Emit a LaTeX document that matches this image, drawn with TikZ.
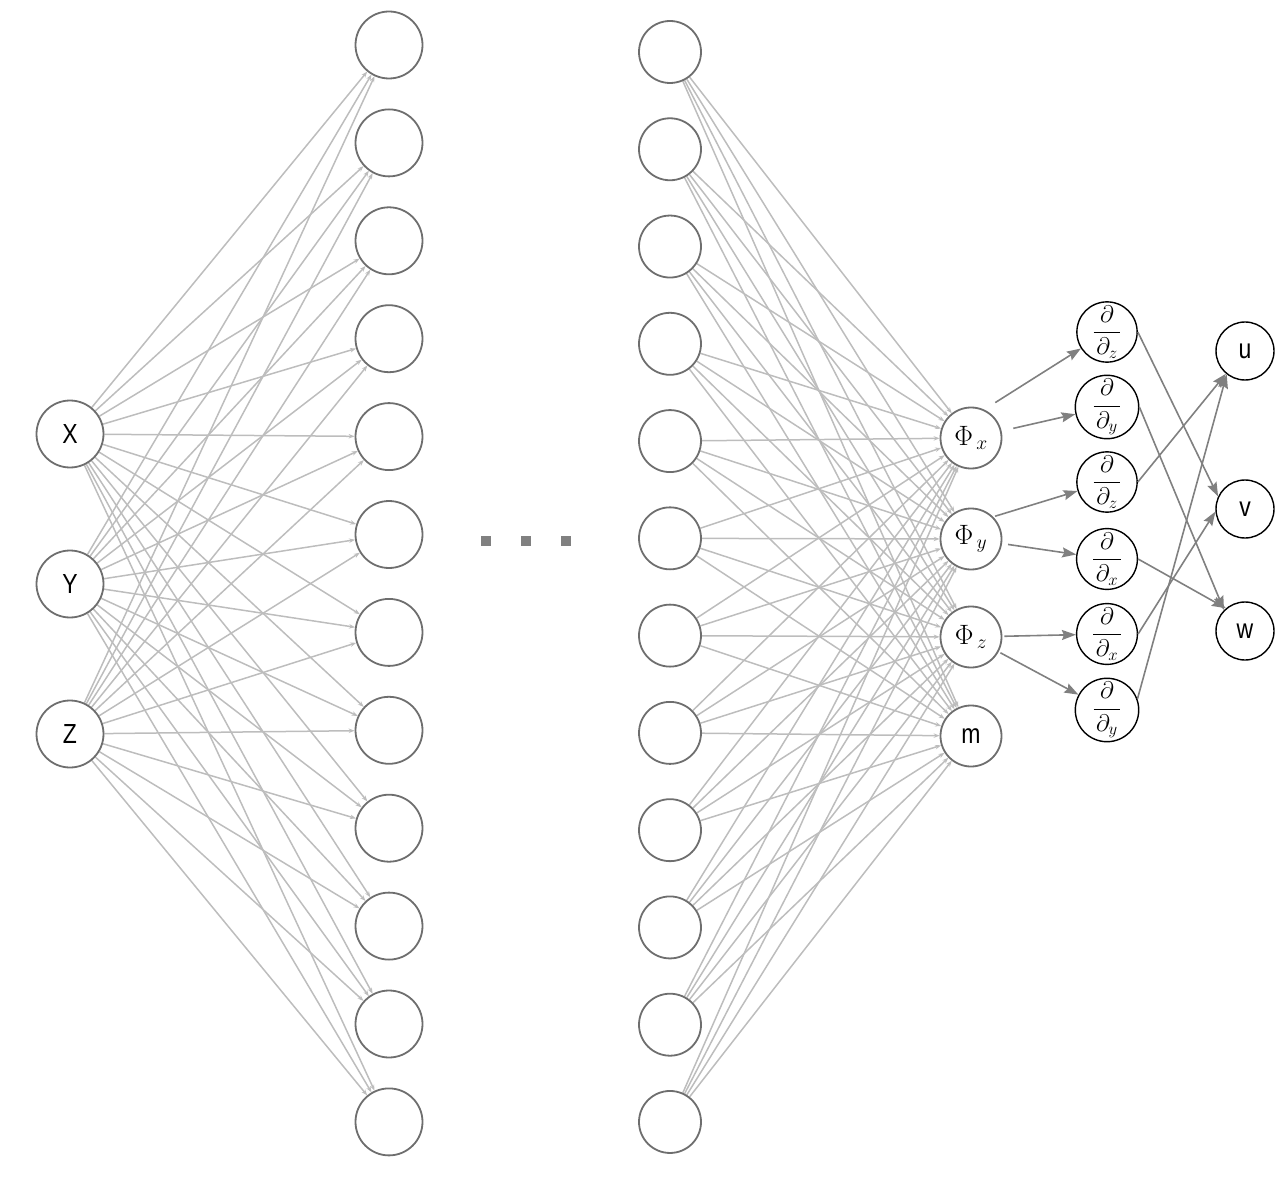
\RequirePackage{fix-cm}
\documentclass[tikz,border=0pt]{standalone}
\usepackage{fontspec}
\usepackage{graphicx}
\setsansfont{Liberation Sans}
\usetikzlibrary{arrows.meta,backgrounds}
\definecolor{nodegray}{HTML}{6E6E6E}
\definecolor{edgegray}{HTML}{BDBDBD}
\definecolor{arrgray}{HTML}{808080}
\newcommand{\tl}[1]{\scalebox{1}[1.2]{#1}}
\newcommand{\dfr}[1]{$\displaystyle\frac{\partial}{\mkern2mu\partial_{#1}\mkern2mu}$}
\begin{document}
\begin{tikzpicture}[x=1pt,y=-1pt,
  base/.style={circle,inner sep=0pt,fill=white},
  gnode/.style={base,draw=nodegray,line width=1.8pt},
  bnode/.style={base,draw=black,line width=1.4pt,minimum size=60pt},
  lbl/.style={font=\fontsize{23}{27}\selectfont\sffamily},
  phil/.style={font=\fontsize{28}{32}\selectfont},
  derl/.style={font=\fontsize{24}{28}\selectfont},
  edge/.style={draw=edgegray,line width=1.5pt,-{Stealth[length=6pt,width=4.5pt]}},
  darr/.style={draw=arrgray,line width=1.6pt,-{Stealth[length=14pt,width=10pt,inset=2pt]}},
  dotsq/.style={rectangle,fill=arrgray,minimum size=10pt,inner sep=0pt},
]
\useasboundingbox (0,0) rectangle (1278,1182);

% input layer
\node[gnode,minimum size=67pt,lbl] (X) at (70,434) {\tl{X}};
\node[gnode,minimum size=67pt,lbl] (Y) at (70,584) {\tl{Y}};
\node[gnode,minimum size=67pt,lbl] (Z) at (70,734) {\tl{Z}};

% hidden layer 1
\foreach \i in {1,...,12}{
  \pgfmathsetmacro{\yy}{45+(\i-1)*97.9}
  \node[gnode,minimum size=67pt] (a\i) at (389,\yy) {};
}
% hidden layer 2
\foreach \i in {1,...,12}{
  \pgfmathsetmacro{\yy}{52+(\i-1)*97.27}
  \node[gnode,minimum size=62pt] (b\i) at (670,\yy) {};
}

% dots
\node[dotsq] (dot1) at (486,541) {};
\node[dotsq] (dot2) at (526,541) {};
\node[dotsq] (dot3) at (566,541) {};

% output layer
\node[gnode,minimum size=61pt,phil] (Phix) at (971,438) {$\Phi_{\,x}$};
\node[gnode,minimum size=61pt,phil] (Phiy) at (971,539) {$\Phi_{\,y}$};
\node[gnode,minimum size=61pt,phil] (Phiz) at (971,637) {$\Phi_{\,z}$};
\node[gnode,minimum size=61pt,lbl] (m) at (971,736) {\tl{m}};

% derivative nodes
\node[bnode,derl] (d1) at (1107,332) {\dfr{z}};
\node[bnode,derl] (d2) at (1107,407) {\dfr{y}};
\node[bnode,derl] (d3) at (1107,482) {\dfr{z}};
\node[bnode,derl] (d4) at (1107,559) {\dfr{x}};
\node[bnode,derl] (d5) at (1107,634) {\dfr{x}};
\node[bnode,derl] (d6) at (1107,710) {\dfr{y}};

% velocity nodes
\node[bnode,minimum size=58pt,lbl] (u) at (1245,351) {\tl{u}};
\node[bnode,minimum size=58pt,lbl] (v) at (1245,509) {\tl{v}};
\node[bnode,minimum size=58pt,lbl] (w) at (1245,631) {\tl{w}};

% dense connections
\begin{scope}[on background layer]
  \foreach \s in {X,Y,Z}{
    \foreach \i in {1,...,12}{
      \draw[edge] (\s) -- (a\i);
    }
  }
  \foreach \i in {1,...,12}{
    \foreach \t in {Phix,Phiy,Phiz,m}{
      \draw[edge] (b\i) -- (\t);
    }
  }
\end{scope}

% output to derivatives
\draw[darr,shorten <=13pt] (Phix.65) -- (d1);
\draw[darr,shorten <=12pt] (Phix) -- (d2);
\draw[darr,shorten <=2pt] (Phiy.north east) -- (d3);
\draw[darr,shorten <=6pt] (Phiy) -- (d4);
\draw[darr,shorten <=2pt] (Phiz) -- (d5);
\draw[darr,shorten <=2pt] (Phiz) -- (d6);

% derivatives to velocities
\draw[darr] (d1.east) -- (v.155);
\draw[darr] (d2.east) -- (w.135);
\draw[darr] (d3.east) -- (u.230);
\draw[darr] (d4.east) -- (w.130);
\draw[darr] (d5.east) -- (v.185);
\draw[darr] (d6.20) -- (u.232);
\end{tikzpicture}
\end{document}
